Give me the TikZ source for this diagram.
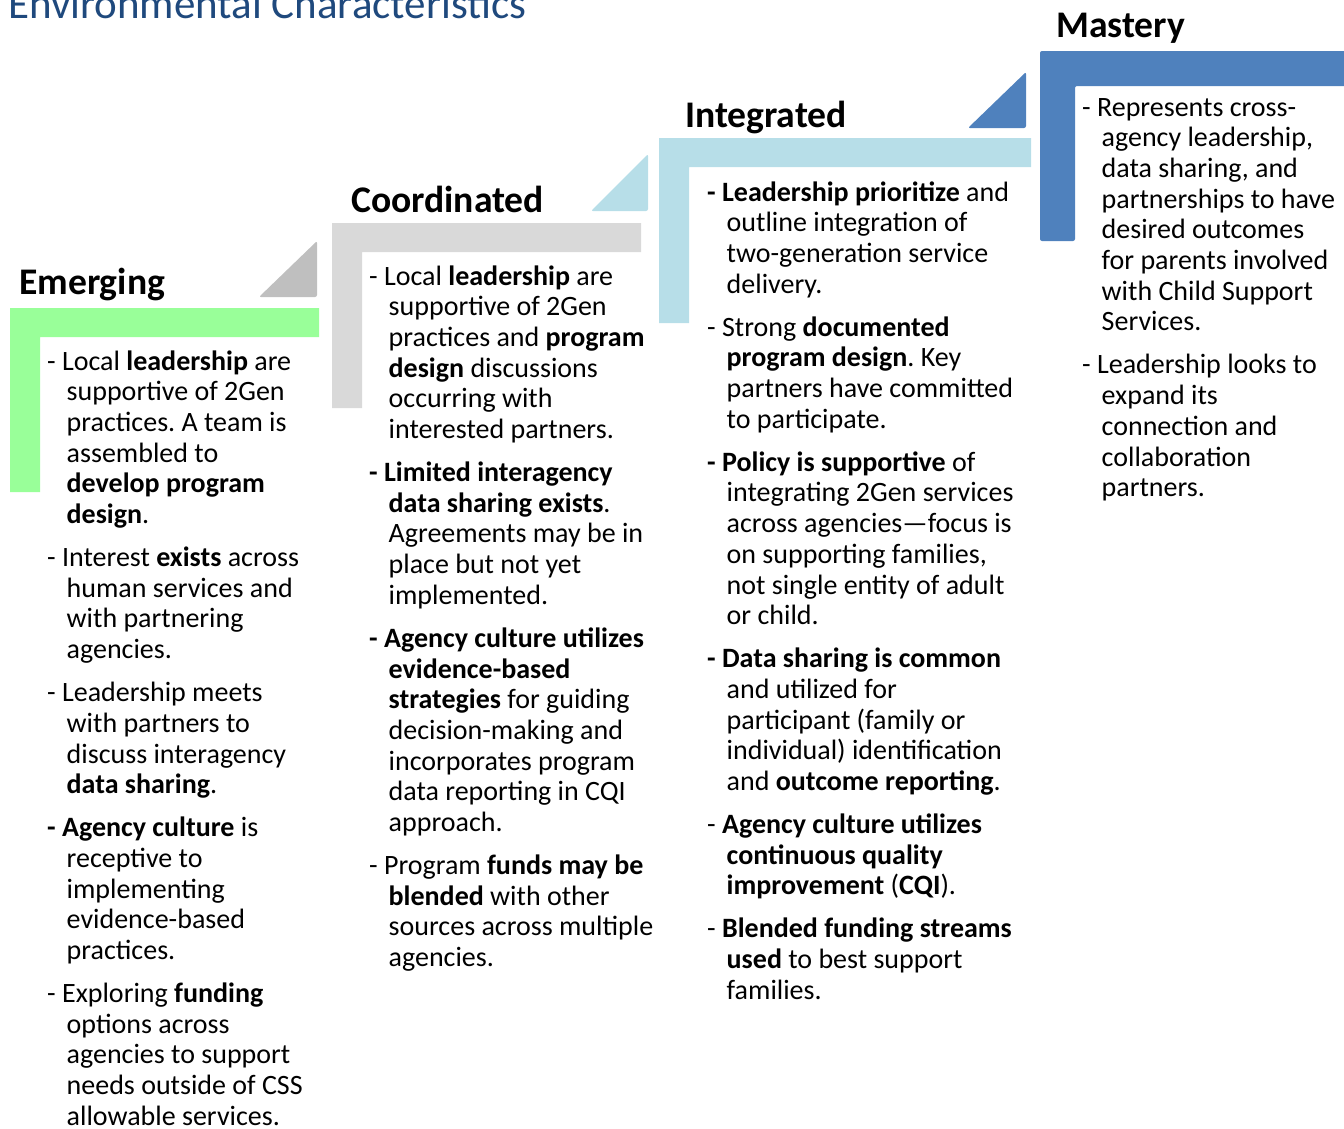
\documentclass[tikz,border=0pt]{standalone}
\usepackage{fontspec}
\setmainfont{Carlito}
\frenchspacing
\definecolor{titleblue}{HTML}{1F497D}
\definecolor{lgreen}{HTML}{99FF99}
\definecolor{lgray}{HTML}{D9D9D9}
\definecolor{mgray}{HTML}{BFBFBF}
\definecolor{lblue}{HTML}{B7DEE8}
\definecolor{mblue}{HTML}{4F81BD}
\newcommand\itm{\par\hangindent=19.5pt\hangafter=1\noindent}
\newcommand\colbox[1]{\parbox[t]{420pt}{\raggedright\fontsize{28}{30.7}\selectfont\frenchspacing\setlength\parskip{12.3pt}\setlength\parindent{0pt}#1}}
\begin{document}
\begin{tikzpicture}[x=1pt,y=-1pt,
  heading/.style={anchor=base west, inner sep=0pt, font=\fontsize{37.6}{40}\selectfont\bfseries},
  body/.style={anchor=base west, inner sep=0pt},
  tri/.style={rounded corners=2pt}]
\useasboundingbox (0,0) rectangle (1344,1128);

% title
\node[anchor=base west, inner sep=0pt, font=\fontsize{43}{46}\selectfont, text=titleblue] (title) at (8,18) {Environmental Characteristics};

% L-shapes
\fill[lgreen] (10,308) -- (319,308) -- (319,337) -- (40,337) -- (40,492) -- (10,492) -- cycle;
\fill[lgray] (332,223) -- (641,223) -- (641,252) -- (362,252) -- (362,408) -- (332,408) -- cycle;
\fill[lblue] (659,138) -- (1031,138) -- (1031,167) -- (689,167) -- (689,323) -- (659,323) -- cycle;
\fill[mblue, rounded corners=2pt] (1040,51) -- (1350,51) -- (1350,86) -- (1075,86) -- (1075,241) -- (1040,241) -- cycle;

% triangles
\fill[mgray, tri] (259,297) -- (317,297) -- (317,241) -- cycle;
\fill[lblue, tri] (591,211) -- (648,211) -- (648,154) -- cycle;
\fill[mblue, tri] (968,128) -- (1026,128) -- (1026,72) -- cycle;

% headings
\node[heading] (hEm) at (19,294) {Emerging};
\node[heading] (hCo) at (351,212) {Coordinated};
\node[heading] (hIn) at (685,127) {Integrated};
\node[heading] (hMa) at (1056,37) {Mastery};

% bodies
\node[body] (bEm) at (47,370) {\colbox{%
\itm - Local \textbf{leadership} are\newline supportive of 2Gen\newline practices. A team is\newline assembled to\newline \textbf{develop program}\newline \textbf{design}.
\itm - Interest \textbf{exists} across\newline human services and\newline with partnering\newline agencies.
\itm - Leadership meets\newline with partners to\newline discuss interagency\newline \textbf{data sharing}.
\itm \textbf{- Agency culture} is\newline receptive to\newline implementing\newline evidence-based\newline practices.
\itm - Exploring \textbf{funding}\newline options across\newline agencies to support\newline needs outside of CSS\newline allowable services.}};

\node[body] (bCo) at (369,285) {\colbox{%
\itm - Local \textbf{leadership} are\newline supportive of 2Gen\newline practices and \textbf{program}\newline \textbf{design} discussions\newline occurring with\newline interested partners.
\itm \textbf{- Limited interagency}\newline \textbf{data sharing exists}.\newline Agreements may be in\newline place but not yet\newline implemented.
\itm \textbf{- Agency culture utilizes}\newline \textbf{evidence-based}\newline \textbf{strategies} for guiding\newline decision-making and\newline incorporates program\newline data reporting in CQI\newline approach.
\itm - Program \textbf{funds may be}\newline \textbf{blended} with other\newline sources across multiple\newline agencies.}};

\node[body] (bIn) at (707,201) {\colbox{%
\itm \textbf{- Leadership prioritize} and\newline outline integration of\newline two-generation service\newline delivery.
\itm - Strong \textbf{documented}\newline \textbf{program design}. Key\newline partners have committed\newline to participate.
\itm \textbf{- Policy is supportive} of\newline integrating 2Gen services\newline across agencies—focus is\newline on supporting families,\newline not single entity of adult\newline or child.
\itm \textbf{- Data sharing is common}\newline and utilized for\newline participant (family or\newline individual) identification\newline and \textbf{outcome reporting}.
\itm - \textbf{Agency culture utilizes}\newline \textbf{continuous quality}\newline \textbf{improvement} (\textbf{CQI}).
\itm - \textbf{Blended funding streams}\newline \textbf{used} to best support\newline families.}};

\node[body] (bMa) at (1082,116) {\colbox{%
\itm - Represents cross-\newline agency leadership,\newline data sharing, and\newline partnerships to have\newline desired outcomes\newline for parents involved\newline with Child Support\newline Services.
\itm - Leadership looks to\newline expand its\newline connection and\newline collaboration\newline partners.}};
\end{tikzpicture}
\end{document}
